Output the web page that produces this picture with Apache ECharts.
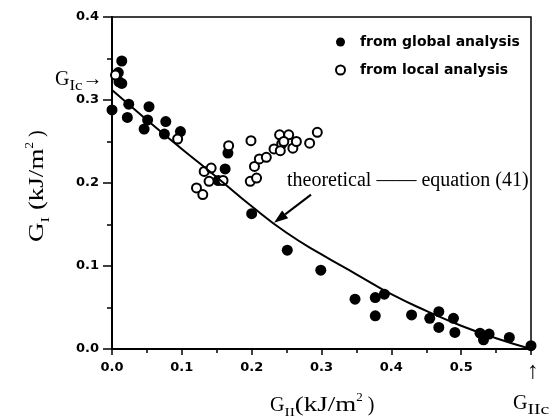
<!DOCTYPE html>
<html>
<head>
<meta charset="utf-8">
<script src="https://cdn.jsdelivr.net/npm/echarts@6/dist/echarts.min.js"></script>
<style>
html, body { margin: 0; background: #fff; }
#pic { width: 557px; height: 419px; }
</style>
</head>
<body>
<div id="pic"></div>
<script>
// data (G_II, G_I in kJ/m^2)
var globalX = [0.014, 0.009, 0.010, 0.014, 0.000, 0.024, 0.022, 0.053, 0.051, 0.046, 0.077, 0.075, 0.098,
               0.152, 0.162, 0.166, 0.200, 0.251, 0.299, 0.348, 0.377, 0.390, 0.377, 0.429, 0.455, 0.468,
               0.468, 0.489, 0.491, 0.527, 0.540, 0.532, 0.569, 0.600];
var globalY = [0.347, 0.333, 0.322, 0.320, 0.288, 0.295, 0.279, 0.292, 0.276, 0.265, 0.274, 0.259, 0.262,
               0.203, 0.217, 0.236, 0.163, 0.119, 0.095, 0.060, 0.062, 0.066, 0.040, 0.041, 0.037, 0.045,
               0.026, 0.037, 0.020, 0.019, 0.018, 0.011, 0.014, 0.004];

var localX = [0.005, 0.094, 0.121, 0.130, 0.132, 0.142, 0.139, 0.159, 0.167, 0.199, 0.198, 0.207,
              0.204, 0.211, 0.221, 0.232, 0.240, 0.253, 0.243, 0.241, 0.259, 0.264, 0.246, 0.283, 0.294];
var localY = [0.330, 0.253, 0.194, 0.186, 0.214, 0.218, 0.202, 0.203, 0.245, 0.251, 0.202, 0.206,
              0.220, 0.229, 0.231, 0.241, 0.258, 0.258, 0.247, 0.239, 0.242, 0.250, 0.250, 0.248, 0.261];

// theoretical curve, equation (41), as traced
var curveX = [0, 0.05, 0.1, 0.15, 0.2, 0.25, 0.3, 0.35, 0.4, 0.45, 0.5, 0.55, 0.6];
var curveY = [0.312, 0.276, 0.241, 0.207, 0.172, 0.140, 0.114, 0.090, 0.066, 0.046, 0.028, 0.013, 0.0];

var chart = echarts.init(document.getElementById('pic'));

var serif = '"Liberation Serif", serif';
var sans = '"DejaVu Sans", sans-serif';

function pairs(xs, ys) {
    return xs.map(function (x, i) { return [x, ys[i]]; });
}

var ctx = document.createElement('canvas').getContext('2d');
function textW(t, size) {
    ctx.font = size + 'px ' + serif;
    return ctx.measureText(t).width;
}

// lays out [text, size, dy, stretch] pieces left to right (for sub/superscripts)
function pieces(list, x, y, rot) {
    var kids = [], cx = 0;
    list.forEach(function (p) {
        var sx = p[3] || 1;
        kids.push({
            type: 'text', x: cx, y: p[2] || 0, scaleX: sx,
            style: { text: p[0], fontSize: p[1], fontFamily: serif, fill: '#000', align: 'left', verticalAlign: 'middle' }
        });
        cx += textW(p[0], p[1]) * sx;
    });
    return { type: 'group', x: x, y: y, rotation: rot || 0, children: kids, silent: true };
}

var tickStyle = { color: '#000', width: 1.5 };

option = {
    animation: false,
    backgroundColor: '#fff',
    grid: { left: 112, right: 26, top: 17, bottom: 70, show: true, borderColor: '#000', borderWidth: 1.5 },
    xAxis: {
        type: 'value', min: 0, max: 0.6, interval: 0.1,
        axisLine: { lineStyle: { color: '#000', width: 2 } },
        axisTick: { length: 6, lineStyle: tickStyle },
        minorTick: { show: true, splitNumber: 2, length: 4, lineStyle: tickStyle },
        splitLine: { show: false },
        axisLabel: {
            margin: 12, color: '#000', fontFamily: sans, fontWeight: 'bold', fontSize: 13,
            showMaxLabel: false,
            formatter: function (v) { return v.toFixed(1); }
        }
    },
    yAxis: {
        type: 'value', min: 0, max: 0.4, interval: 0.1,
        axisLine: { lineStyle: { color: '#000', width: 2 } },
        axisTick: { length: 9, lineStyle: tickStyle },
        minorTick: { show: true, splitNumber: 2, length: 5, lineStyle: tickStyle },
        splitLine: { show: false },
        axisLabel: {
            margin: 13, color: '#000', fontFamily: sans, fontWeight: 'bold', fontSize: 13,
            formatter: function (v) { return v.toFixed(1); }
        }
    },
    legend: {
        orient: 'vertical', left: 330, top: 29,
        itemWidth: 9, itemHeight: 9, itemGap: 12,
        data: [
            { name: 'from global analysis', icon: 'circle' },
            { name: 'from local analysis', icon: 'circle' }
        ],
        textStyle: { color: '#000', fontFamily: sans, fontSize: 14, fontWeight: 'bold', lineHeight: 16, padding: [0, 0, 0, 10] }
    },
    series: [
        {
            name: 'theoretical', type: 'line', data: pairs(curveX, curveY),
            smooth: true, showSymbol: false, silent: true,
            lineStyle: { color: '#000', width: 2 }
        },
        {
            name: 'from global analysis', type: 'scatter', data: pairs(globalX, globalY),
            symbolSize: 11, itemStyle: { color: '#000', opacity: 1 }
        },
        {
            name: 'from local analysis', type: 'scatter', data: pairs(localX, localY),
            symbolSize: 9, itemStyle: { color: '#fff', borderColor: '#000', borderWidth: 2, opacity: 1 }
        }
    ]
};
chart.setOption(option);

// annotation arrow onto the curve
var tip = chart.convertToPixel({ gridIndex: 0 }, [0.232, 0.152]);
var tail = chart.convertToPixel({ gridIndex: 0 }, [0.285, 0.186]);
var dx = tip[0] - tail[0], dy = tip[1] - tail[1];
var len = Math.sqrt(dx * dx + dy * dy);
var ux = dx / len, uy = dy / len;
var bx = tip[0] - ux * 14, by = tip[1] - uy * 14;
var head = [[tip[0], tip[1]], [bx + uy * 5, by - ux * 5], [bx - uy * 5, by + ux * 5]];

chart.setOption({
    graphic: [
        pieces([['G', 20, 0], ['II', 13, 7, 1.2], ['(kJ/m', 20, 0, 1.35], ['2', 13, -8], [' )', 20, 0]], 270, 406),
        pieces([['G', 20, 0, 1.35], ['I', 13, 8, 1.3], [' (kJ/m', 20, 0, 1.35], ['2', 13, -8], [' )', 20, 0]], 38, 242, Math.PI / 2),
        pieces([['G', 20, 0], ['Ic', 14, 6, 1.2], ['\u2192', 20, 0]], 55, 80),
        pieces([['G', 20, 0], ['IIc', 14, 6, 1.4]], 513, 404),
        {
            type: 'text', x: 533, y: 372, silent: true,
            style: { text: '\u2191', fontSize: 24, fontFamily: serif, fill: '#000', align: 'center', verticalAlign: 'middle' }
        },
        {
            type: 'text', x: 287, y: 181, silent: true,
            style: { text: 'theoretical \u2014\u2014 equation (41)', fontSize: 20, fontFamily: serif, fill: '#000', align: 'left', verticalAlign: 'middle' }
        },
        {
            type: 'line', silent: true,
            shape: { x1: tail[0], y1: tail[1], x2: bx, y2: by },
            style: { stroke: '#000', lineWidth: 2 }
        },
        {
            type: 'polygon', silent: true,
            shape: { points: head },
            style: { fill: '#000' }
        }
    ]
});
</script>
</body>
</html>
